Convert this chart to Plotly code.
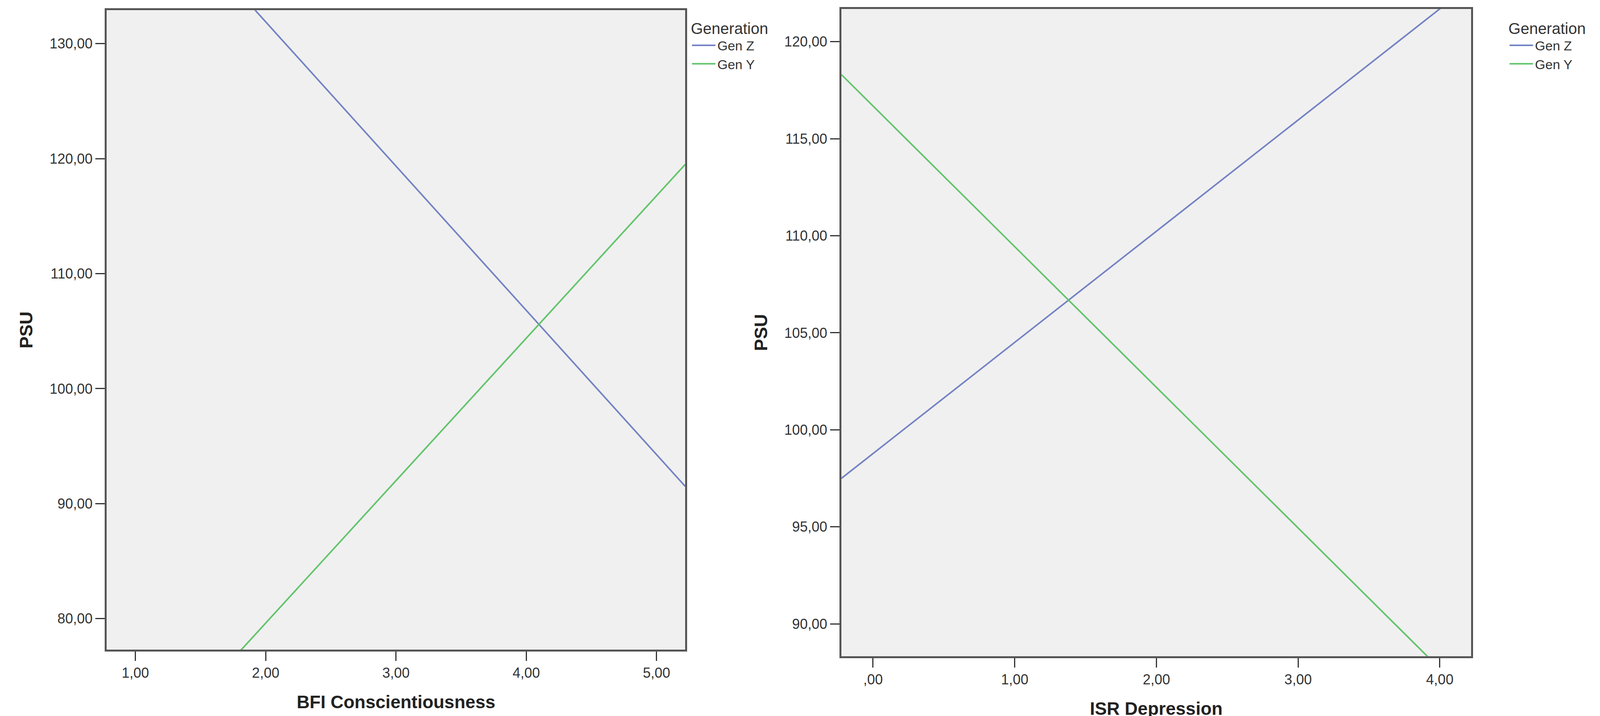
import plotly.graph_objects as go

# Left panel: BFI Conscientiousness
x_left = [0.78, 5.22]
genz_left = [147.2, 91.5]
geny_left = [64.5, 119.5]
xticks_left = [1, 2, 3, 4, 5]
xticktext_left = ["1,00", "2,00", "3,00", "4,00", "5,00"]
yticks_left = [80, 90, 100, 110, 120, 130]
yticktext_left = ["80,00", "90,00", "100,00", "110,00", "120,00", "130,00"]

# Right panel: ISR Depression
x_right = [-0.223, 4.22]
genz_right = [97.5, 122.95]
geny_right = [118.3, 86.1]
xticks_right = [0, 1, 2, 3, 4]
xticktext_right = [",00", "1,00", "2,00", "3,00", "4,00"]
yticks_right = [90, 95, 100, 105, 110, 115, 120]
yticktext_right = ["90,00", "95,00", "100,00", "105,00", "110,00", "115,00", "120,00"]

BLUE = "#7483c4"
GREEN = "#62c46c"
FONT = "Liberation Sans, Arial, sans-serif"

fig = go.Figure()
fig.add_trace(go.Scatter(x=x_left, y=genz_left, mode="lines", name="Gen Z",
                         line=dict(color=BLUE, width=4), xaxis="x", yaxis="y", legend="legend"))
fig.add_trace(go.Scatter(x=x_left, y=geny_left, mode="lines", name="Gen Y",
                         line=dict(color=GREEN, width=4), xaxis="x", yaxis="y", legend="legend"))
fig.add_trace(go.Scatter(x=x_right, y=genz_right, mode="lines", name="Gen Z",
                         line=dict(color=BLUE, width=4), xaxis="x2", yaxis="y2", legend="legend2"))
fig.add_trace(go.Scatter(x=x_right, y=geny_right, mode="lines", name="Gen Y",
                         line=dict(color=GREEN, width=4), xaxis="x2", yaxis="y2", legend="legend2"))

axcommon = dict(showgrid=False, zeroline=False, showline=True, linecolor="#555555", linewidth=5,
                mirror=True, ticks="outside", ticklen=24, tickwidth=3, tickcolor="#333333",
                tickfont=dict(size=36, color="#333333", family=FONT))
title_font = dict(size=46, color="#222222", family=FONT, weight="bold")

fig.update_layout(
    autosize=True, paper_bgcolor="white", plot_bgcolor="#f0f0f0",
    margin=dict(l=0, r=0, t=0, b=0),
    font=dict(family=FONT),
    xaxis=dict(domain=[0.065, 0.428], range=[0.78, 5.22], tickvals=xticks_left, ticktext=xticktext_left,
               title=dict(text="BFI Conscientiousness", font=title_font, standoff=40), anchor="y", **axcommon),
    yaxis=dict(domain=[0.097, 0.99], range=[77.3, 132.9], tickvals=yticks_left, ticktext=yticktext_left,
               title=dict(text="PSU", font=title_font, standoff=30), anchor="x", **axcommon),
    xaxis2=dict(domain=[0.526, 0.921], range=[-0.223, 4.22], tickvals=xticks_right, ticktext=xticktext_right,
                title=dict(text="ISR Depression", font=title_font, standoff=40), anchor="y2", **axcommon),
    yaxis2=dict(domain=[0.088, 0.992], range=[88.34, 121.69], tickvals=yticks_right, ticktext=yticktext_right,
                title=dict(text="PSU", font=title_font, standoff=30), anchor="x2", **axcommon),
    legend=dict(x=0.431, y=0.985, xanchor="left", yanchor="top", bgcolor="rgba(0,0,0,0)",
                title=dict(text="Generation", font=dict(size=40, color="#333333", family=FONT)),
                font=dict(size=34, color="#333333", family=FONT), tracegroupgap=0, itemwidth=60),
    legend2=dict(x=0.944, y=0.985, xanchor="left", yanchor="top", bgcolor="rgba(0,0,0,0)",
                 title=dict(text="Generation", font=dict(size=40, color="#333333", family=FONT)),
                 font=dict(size=34, color="#333333", family=FONT), tracegroupgap=0, itemwidth=60),
)

fig.write_html("out.html", default_width="100%", default_height="100vh")
